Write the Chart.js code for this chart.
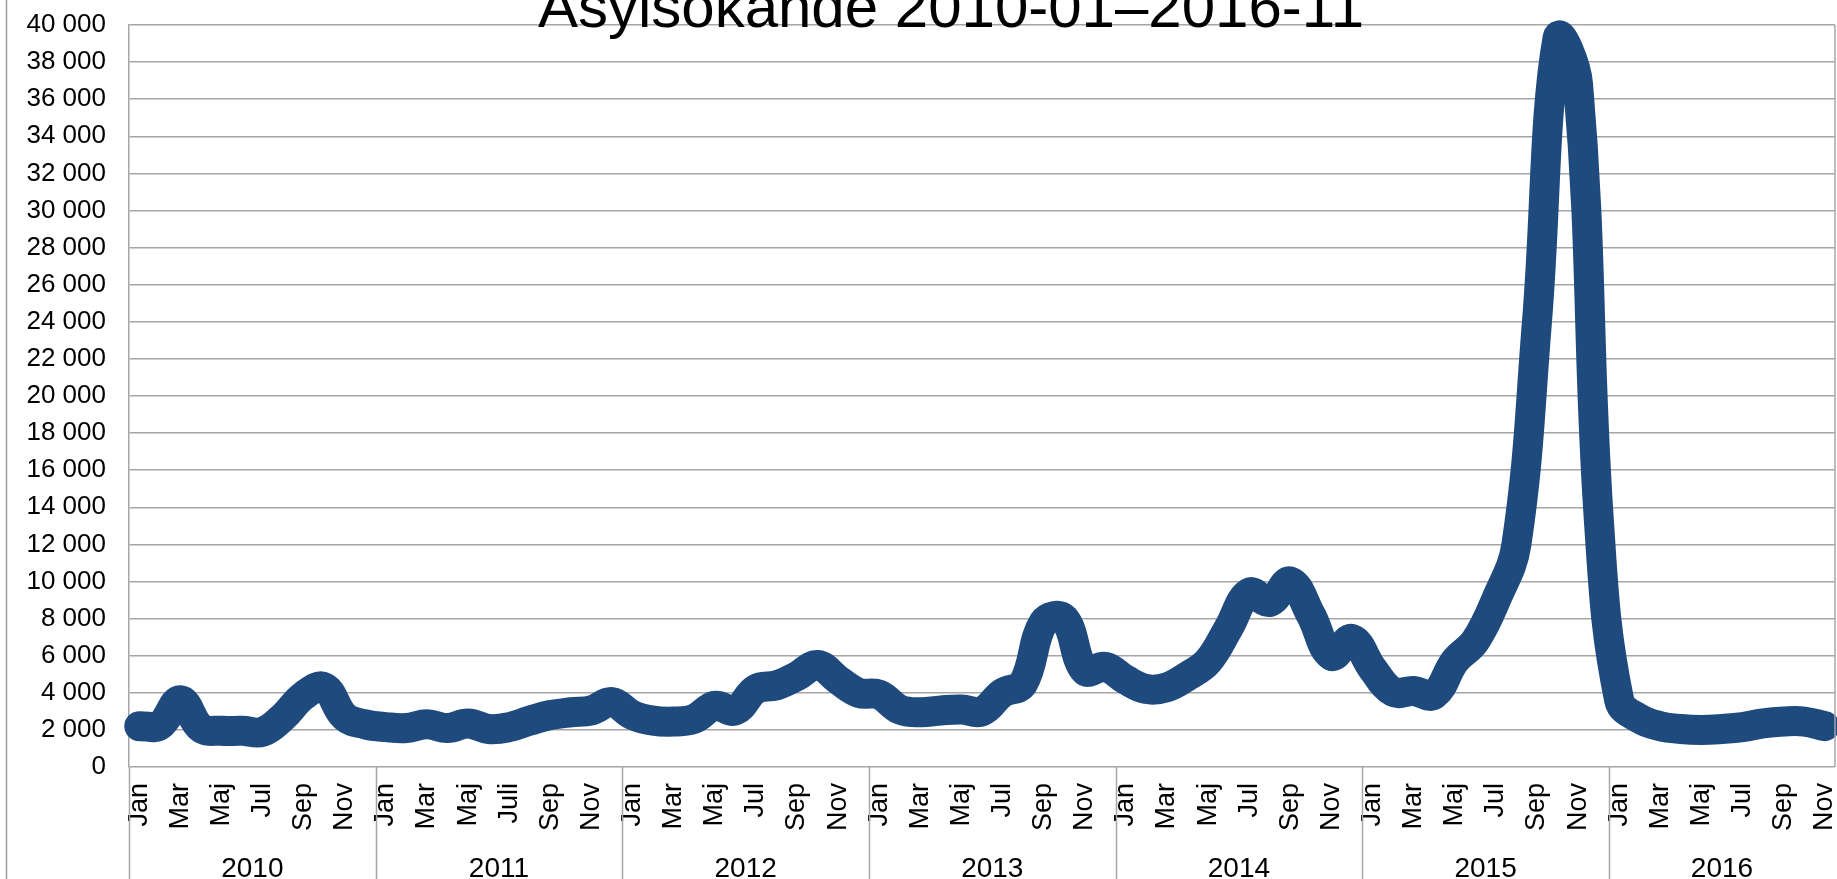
<!DOCTYPE html>
<html>
<head>
<meta charset="utf-8">
<script src="https://cdn.jsdelivr.net/npm/chart.js@4.4.0/dist/chart.umd.min.js"></script>
<style>
  html, body { margin: 0; padding: 0; background: #fff; }
</style>
</head>
<body>
<canvas id="myChart" width="1837" height="879"></canvas>
<script>
// Data (asylum seekers per month)
var years = ['2010', '2011', '2012', '2013', '2014', '2015', '2016'];
var months = ['Jan', 'Feb', 'Mar', 'Apr', 'Maj', 'Jun', 'Jul', 'Aug', 'Sep', 'Okt', 'Nov', 'Dec'];
var julyLabel2011 = 'Juli';

var v2010 = [2200, 2250, 3600, 2100, 1950, 1950, 1900, 2700, 3850, 4300, 2700, 2300];
var v2011 = [2150, 2100, 2300, 2100, 2350, 2050, 2150, 2500, 2800, 2950, 3050, 3500];
var v2012 = [2800, 2500, 2450, 2600, 3300, 3050, 4200, 4400, 4900, 5500, 4700, 4000];
var v2013 = [3900, 3100, 2950, 3050, 3100, 3000, 4000, 4500, 7800, 8000, 5200, 5400];
var v2014 = [4700, 4200, 4300, 4900, 5700, 7500, 9400, 8900, 10000, 8200, 6000, 6900];
var v2015 = [5300, 4050, 4100, 3900, 5700, 6800, 9000, 12000, 24000, 39300, 36800, 13500];
var v2016 = [3600, 2600, 2200, 2050, 2000, 2050, 2150, 2350, 2450, 2450, 2200];

var yMin = 0;
var yMax = 40000;
var yStep = 2000;

var titleText = 'Asylsökande 2010-01–2016-11';

// build categories + values
var series = [v2010, v2011, v2012, v2013, v2014, v2015, v2016];
var labels = [];
var values = [];
for (var y = 0; y < years.length; y++) {
  for (var m = 0; m < series[y].length; m++) {
    var lab = months[m];
    if (years[y] === '2011' && m === 6) lab = julyLabel2011;
    labels.push(lab);
    values.push(series[y][m]);
  }
}

var FONT = '"Liberation Sans", Arial, sans-serif';
var GRID = '#a6a6a6';

function fmt(v) {
  return String(v).replace(/\B(?=(\d{3})+(?!\d))/g, ' ');
}

// frame, title and year row under the month labels
var extras = {
  id: 'extras',
  beforeDraw: function (chart) {
    var ctx = chart.ctx;
    ctx.save();
    ctx.fillStyle = '#ffffff';
    ctx.fillRect(0, 0, chart.width, chart.height);
    ctx.strokeStyle = '#9a9a9a';
    ctx.lineWidth = 1.5;
    ctx.beginPath();
    ctx.moveTo(6.5, 0);
    ctx.lineTo(6.5, chart.height);
    ctx.stroke();
    ctx.restore();
  },
  afterDraw: function (chart) {
    var ctx = chart.ctx;
    var area = chart.chartArea;
    var n = labels.length;
    var step = (area.right - area.left) / n;
    ctx.save();
    ctx.strokeStyle = GRID;
    ctx.lineWidth = 1.5;
    ctx.beginPath();
    ctx.moveTo(area.right, area.top);
    ctx.lineTo(area.right, area.bottom);
    ctx.stroke();
    var start = 0;
    ctx.fillStyle = '#000';
    ctx.font = '28px ' + FONT;
    ctx.textAlign = 'center';
    ctx.textBaseline = 'alphabetic';
    for (var y = 0; y < years.length; y++) {
      var x0 = area.left + start * step;
      var x1 = area.left + (start + series[y].length) * step;
      ctx.beginPath();
      ctx.moveTo(Math.round(x0) + 0.5, area.bottom);
      ctx.lineTo(Math.round(x0) + 0.5, chart.height);
      ctx.stroke();
      ctx.fillText(years[y], (x0 + x1) / 2, 877);
      start += series[y].length;
    }
    // title, cut at the top like the original
    ctx.font = '60px ' + FONT;
    ctx.fillText(titleText, 951, 27);
    ctx.restore();
  }
};

var ctx = document.getElementById('myChart').getContext('2d');
var myChart = new Chart(ctx, {
  type: 'line',
  data: {
    labels: labels,
    datasets: [{
      data: values,
      borderColor: '#1f4a7d',
      backgroundColor: '#1f4a7d',
      borderWidth: 30,
      pointRadius: 0,
      tension: 0.4,
      borderCapStyle: 'round',
      borderJoinStyle: 'round',
      clip: false
    }]
  },
  plugins: [extras],
  options: {
    responsive: false,
    devicePixelRatio: 1,
    animation: false,
    layout: { padding: { top: 25, right: 2, left: 0, bottom: 0 } },
    plugins: {
      legend: { display: false },
      tooltip: { enabled: false }
    },
    scales: {
      x: {
        offset: true,
        grid: { display: false, drawTicks: false },
        border: { display: false },
        afterFit: function (s) {
          s.height = 112;
          s.paddingLeft = 0;
          s.paddingRight = 0;
        },
        ticks: {
          autoSkip: false,
          minRotation: 90,
          maxRotation: 90,
          padding: 16,
          color: '#000',
          font: { family: FONT, size: 27 },
          callback: function (v, i) { return i % 2 === 0 ? labels[i] : ''; }
        }
      },
      y: {
        min: yMin,
        max: yMax,
        grid: { color: GRID, lineWidth: 1.5, drawTicks: false },
        border: { display: true, color: GRID, width: 1.5 },
        afterFit: function (s) {
          s.width = 129;
          s.paddingTop = 0;
          s.paddingBottom = 0;
        },
        ticks: {
          stepSize: yStep,
          padding: 23,
          color: '#000',
          font: { family: FONT, size: 26 },
          callback: function (v) { return fmt(v); }
        }
      }
    }
  }
});
</script>
</body>
</html>
